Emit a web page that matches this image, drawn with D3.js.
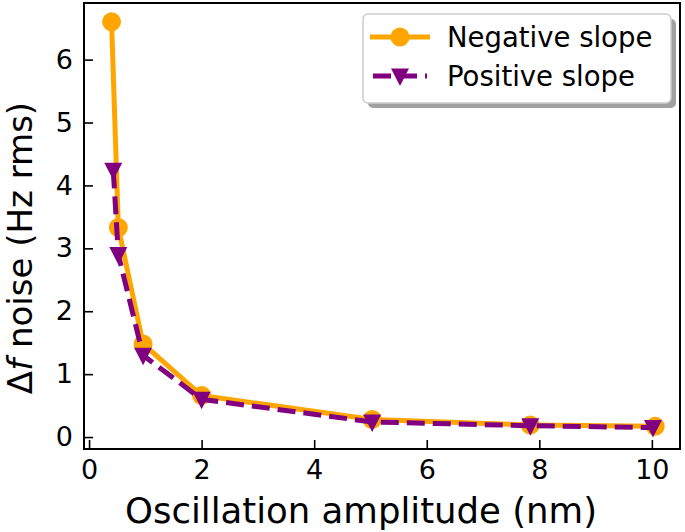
<!DOCTYPE html>
<html><head><meta charset="utf-8">
<script src="https://cdn.jsdelivr.net/npm/d3@7"></script>
<style>body{margin:0;background:#fff}svg{display:block;font-family:"DejaVu Sans",sans-serif}</style>
</head><body>
<script>
const negX = [0.40, 0.52, 0.96, 2.0, 5.03, 7.84, 10.06];
const negY = [6.60, 3.33, 1.48, 0.66, 0.28, 0.19, 0.17];
const posX = [0.43, 0.52, 0.96, 2.0, 5.03, 7.84, 10.02];
const posY = [4.24, 2.90, 1.30, 0.60, 0.24, 0.18, 0.15];
const xTicks = [0, 2, 4, 6, 8, 10];
const yTicks = [0, 1, 2, 3, 4, 5, 6];
const seriesNames = ["Negative slope", "Positive slope"];

const W = 685, H = 532;
const L = 84, R = 680, T = 3, B = 449;
const svg = d3.select("body").append("svg").attr("width", W).attr("height", H);
const x = d3.scaleLinear().domain([-0.09, 10.5]).range([L, R]);
const y = d3.scaleLinear().domain([-0.19, 6.9]).range([B, T]);

const xAxis = d3.axisBottom(x).tickValues(xTicks).tickSizeInner(-9).tickSizeOuter(0).tickPadding(11);
const yAxis = d3.axisLeft(y).tickValues(yTicks).tickSizeInner(-9).tickSizeOuter(0).tickPadding(11);
const gx = svg.append("g").attr("transform", `translate(0,${B})`).call(xAxis);
const gy = svg.append("g").attr("transform", `translate(${L},0)`).call(yAxis);
[gx, gy].forEach(g => {
  g.select(".domain").remove();
  g.selectAll(".tick line").attr("stroke", "#000").attr("stroke-width", 1.6);
  g.selectAll(".tick text").attr("font-size", 27).attr("fill", "#000").attr("font-family", "DejaVu Sans");
});
gx.selectAll(".tick text").attr("dy", "0.71em");
svg.append("rect").attr("x", L).attr("y", T).attr("width", R - L).attr("height", B - T)
  .attr("fill", "none").attr("stroke", "#000").attr("stroke-width", 2);

const line = d3.line().x(d => x(d[0])).y(d => y(d[1]));
const neg = negX.map((v, i) => [v, negY[i]]);
const pos = posX.map((v, i) => [v, posY[i]]);
const orange = "#FFA500", purple = "#800080";

svg.append("path").datum(neg).attr("d", line).attr("fill", "none").attr("stroke", orange).attr("stroke-width", 5);
svg.selectAll(".c").data(neg).enter().append("circle")
  .attr("cx", d => x(d[0])).attr("cy", d => y(d[1])).attr("r", 9.5).attr("fill", orange);
svg.append("path").datum(pos).attr("d", line).attr("fill", "none").attr("stroke", purple).attr("stroke-width", 5)
  .attr("stroke-dasharray", "18,8");
const tri = "M-9,-7.5L9,-7.5L0,10Z";
svg.selectAll(".t").data(pos).enter().append("path")
  .attr("d", tri).attr("transform", d => `translate(${x(d[0])},${y(d[1])})`).attr("fill", purple);

// legend
const lg = svg.append("g");
lg.append("rect").attr("x", 368).attr("y", 19).attr("width", 308).attr("height", 89).attr("rx", 5)
  .attr("fill", "#888").attr("opacity", 0.8);
lg.append("rect").attr("x", 363).attr("y", 14).attr("width", 308).attr("height", 89).attr("rx", 5)
  .attr("fill", "#fff").attr("stroke", "#ccc").attr("stroke-width", 1.5);
const ly = [37, 76];
lg.append("line").attr("x1", 370).attr("x2", 430).attr("y1", ly[0]).attr("y2", ly[0]).attr("stroke", orange).attr("stroke-width", 5);
lg.append("circle").attr("cx", 400).attr("cy", ly[0]).attr("r", 9.5).attr("fill", orange);
lg.append("line").attr("x1", 373).attr("x2", 427).attr("y1", ly[1]).attr("y2", ly[1]).attr("stroke", purple).attr("stroke-width", 5)
  .attr("stroke-dasharray", "18,8");
lg.append("path").attr("d", tri).attr("transform", `translate(400,${ly[1]})`).attr("fill", purple);
seriesNames.forEach((n, i) => {
  lg.append("text").attr("x", 447).attr("y", ly[i]).attr("dy", "0.36em").attr("font-size", 27.5).text(n);
});

svg.append("text").attr("x", 361).attr("y", 523).attr("text-anchor", "middle").attr("font-size", 35.5)
  .text("Oscillation amplitude (nm)");
const yl = svg.append("text").attr("transform", `translate(32,248) rotate(-90)`).attr("text-anchor", "middle").attr("font-size", 34);
yl.append("tspan").text("Δ");
yl.append("tspan").attr("font-style", "italic").text("f");
yl.append("tspan").text(" noise (Hz rms)");
</script>
</body></html>
